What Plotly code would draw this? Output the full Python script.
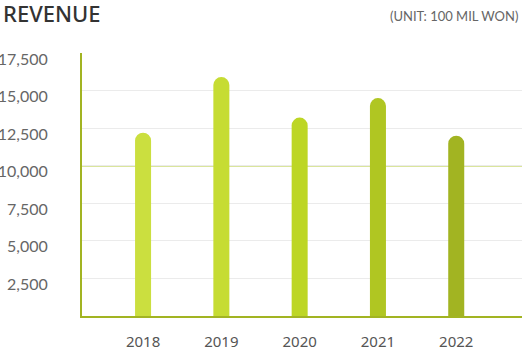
import plotly.graph_objects as go

years = ["2018", "2019", "2020", "2021", "2022"]
revenue = [12200, 15900, 13200, 14500, 12000]
bar_colors = ["#cbdf3f", "#c6dc33", "#bdd625", "#b0c622", "#a2b422"]
y_ticks = [2500, 5000, 7500, 10000, 12500, 15000, 17500]
y_labels = ["2,500", "5,000", "7,500", "10,000", "12,500", "15,000", "17,500"]

W, H = 522, 351
L, R, T, B = 82, 0, 53, 35
pw = W - L - R
ph = H - T - B

fig = go.Figure()
fig.add_trace(go.Bar(
    x=list(range(len(years))), y=revenue,
    marker=dict(color=bar_colors, line=dict(width=0)),
    width=0.2045, hoverinfo="skip",
))

fig.update_layout(
    width=W, height=H,
    margin=dict(l=L, r=R, t=T, b=B, pad=0, autoexpand=False),
    paper_bgcolor="white", plot_bgcolor="white",
    showlegend=False,
    barcornerradius=8,
    xaxis=dict(
        range=[-0.78, 4.84],
        tickvals=list(range(len(years))), ticktext=years,
        showgrid=False, zeroline=False, automargin=False,
        showline=True, linecolor="#a2b422", linewidth=2,
        ticks="", ticklabelstandoff=11,
        tickfont=dict(family="Noto Sans", size=15, color="#555555"),
        fixedrange=True,
    ),
    yaxis=dict(
        range=[0, 17500],
        tickvals=y_ticks, ticktext=y_labels,
        showgrid=True, gridcolor="#ebebeb", gridwidth=1,
        zeroline=False, automargin=False,
        showline=True, linecolor="#a2b422", linewidth=2,
        ticks="", ticklabelstandoff=29, ticklabelshift=6,
        tickfont=dict(family="Lato", size=16, color="#666666"),
        fixedrange=True,
    ),
    shapes=[dict(
        type="line", xref="paper", yref="y",
        x0=0, x1=1, y0=10000, y1=10000,
        line=dict(color="#b5cc3a", width=1.5), layer="between",
    )],
    annotations=[
        dict(text="REVENUE", xref="paper", yref="paper",
             x=-(L - 1) / pw, y=(316 - 13) / ph, xanchor="left", yanchor="middle",
             showarrow=False,
             font=dict(family="Noto Sans", size=22, color="#333333", weight=500)),
        dict(text="(UNIT: 100 MIL WON)", xref="paper", yref="paper",
             x=(520 - L) / pw, y=(316 - 16) / ph, xanchor="right", yanchor="middle",
             showarrow=False,
             font=dict(family="Lato", size=13, color="#666666")),
    ],
)

fig.write_html("out.html")
